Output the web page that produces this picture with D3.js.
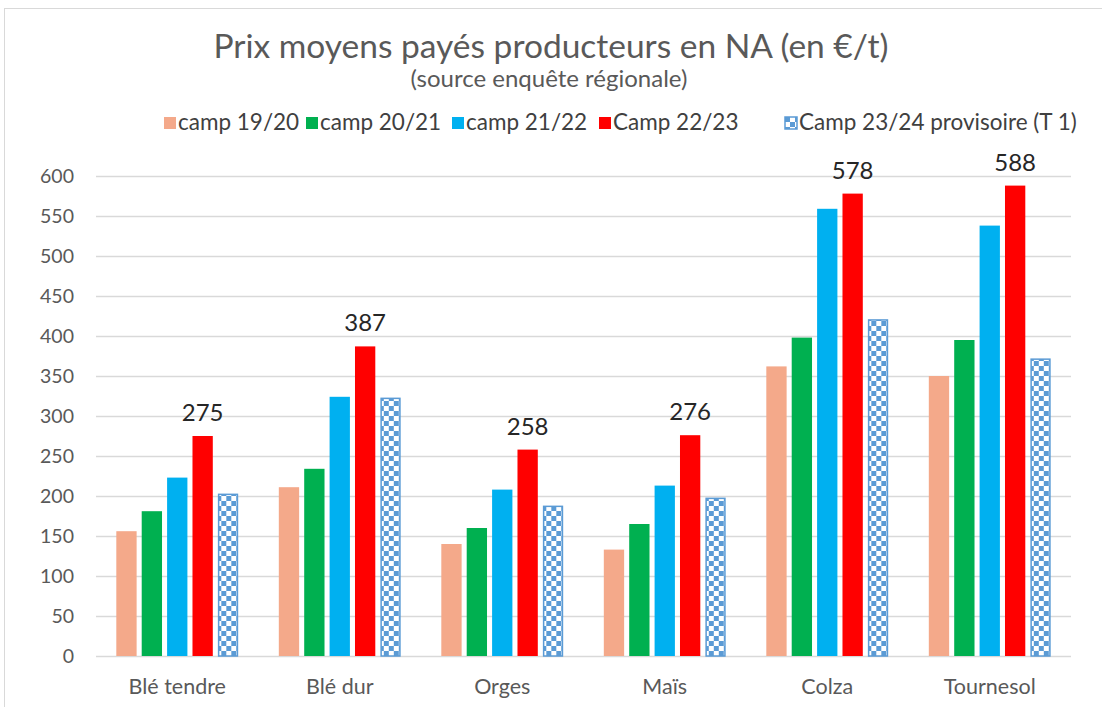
<!DOCTYPE html>
<html>
<head>
<meta charset="utf-8">
<script src="https://cdn.jsdelivr.net/npm/d3@7"></script>
<style>
  body { margin: 0; background: #fff; }
  text { font-family: Lato, "Liberation Sans", sans-serif; }
</style>
</head>
<body>
<div id="chart"></div>
<script>
// data
var categories = ["Blé tendre", "Blé dur", "Orges", "Maïs", "Colza", "Tournesol"];
var seriesNames = ["camp 19/20", "camp 20/21", "camp 21/22", "Camp 22/23", "Camp 23/24 provisoire (T 1)"];
var camp1920 = [156, 211, 140, 133, 362, 350];
var camp2021 = [181, 234, 160, 165, 398, 395];
var camp2122 = [223, 324, 208, 213, 559, 538];
var camp2223 = [275, 387, 258, 276, 578, 588];
var camp2324 = [203, 323, 188, 198, 421, 372];
var yTicks = [0, 50, 100, 150, 200, 250, 300, 350, 400, 450, 500, 550, 600];

var colors = ["#F4A98A", "#00B050", "#00B0F0", "#FF0000", "url(#checker)"];
var allSeries = [camp1920, camp2021, camp2122, camp2223, camp2324];

var W = 1102, H = 707;
var margin = {top: 176, right: 31, bottom: 51, left: 96};
var width = W - margin.left - margin.right;
var height = H - margin.top - margin.bottom;

var root = d3.select("#chart").append("svg")
    .attr("width", W)
    .attr("height", H);

// checker pattern for the provisional campaign
var defs = root.append("defs");
var pat = defs.append("pattern")
    .attr("id", "checker")
    .attr("width", 10).attr("height", 10)
    .attr("patternUnits", "userSpaceOnUse");
pat.append("rect").attr("width", 10).attr("height", 10).attr("fill", "#fff");
pat.append("rect").attr("width", 5).attr("height", 5).attr("fill", "#5B9BD5");
pat.append("rect").attr("x", 5).attr("y", 5).attr("width", 5).attr("height", 5).attr("fill", "#5B9BD5");

// outer frame
root.append("rect")
    .attr("x", 4.5).attr("y", 8.5)
    .attr("width", W - 4).attr("height", H)
    .attr("fill", "none")
    .attr("stroke", "#d9d9d9");

// titles
root.append("text")
    .attr("x", 551).attr("y", 58)
    .attr("text-anchor", "middle")
    .style("font-size", "33.5px")
    .style("fill", "#595959")
    .text("Prix moyens payés producteurs en NA (en €/t)");

root.append("text")
    .attr("x", 549).attr("y", 87)
    .attr("text-anchor", "middle")
    .style("font-size", "24px")
    .style("fill", "#595959")
    .text("(source enquête régionale)");

// legend
var legendX = [164, 306, 452, 599, 785];
var legend = root.append("g");
seriesNames.forEach(function (name, i) {
    var g = legend.append("g").attr("transform", "translate(" + legendX[i] + ",117)");
    g.append("rect")
        .attr("width", 12).attr("height", 12)
        .attr("fill", colors[i])
        .attr("stroke", i == 4 ? "#5B9BD5" : "none")
        .attr("stroke-width", 1.5);
    g.append("text")
        .attr("x", 14).attr("y", 13)
        .style("font-size", "22.5px")
        .style("fill", "#404040")
        .text(name);
});

var svg = root.append("g")
    .attr("transform", "translate(" + margin.left + "," + margin.top + ")");

var y = d3.scaleLinear()
    .domain([0, 600])
    .range([height, 0]);

var x0 = d3.scaleBand()
    .domain(categories)
    .range([0, width])
    .paddingInner(0.25)
    .paddingOuter(0.125);

var x1 = d3.scaleBand()
    .domain(d3.range(seriesNames.length))
    .range([0, x0.bandwidth()])
    .paddingInner(0.2)
    .paddingOuter(0);

// gridlines + y labels
svg.append("g")
    .call(d3.axisLeft(y).tickValues(yTicks).tickSize(-width).tickPadding(22))
    .call(function (g) { g.select(".domain").remove(); })
    .call(function (g) {
        g.selectAll(".tick line").attr("stroke", "#d9d9d9").attr("stroke-width", 1.5);
        g.selectAll(".tick text")
            .style("font-size", "19.5px")
            .style("fill", "#595959")
            .style("font-family", "Lato, sans-serif");
    });

// x labels
svg.append("g")
    .attr("transform", "translate(0," + height + ")")
    .call(d3.axisBottom(x0).tickSize(0).tickPadding(23))
    .call(function (g) { g.select(".domain").remove(); })
    .call(function (g) {
        g.selectAll(".tick text")
            .style("font-size", "21.5px")
            .style("fill", "#595959")
            .style("font-family", "Lato, sans-serif");
    });

// bars
categories.forEach(function (cat, ci) {
    var grp = svg.append("g").attr("transform", "translate(" + x0(cat) + ",0)");
    allSeries.forEach(function (vals, si) {
        var v = vals[ci];
        if (si == 4) {
            grp.append("rect")
                .attr("x", x1(si) + 0.75)
                .attr("y", y(v) + 0.75)
                .attr("width", x1.bandwidth() - 1.5)
                .attr("height", height - y(v) - 0.75)
                .attr("fill", colors[si])
                .attr("stroke", "#5B9BD5")
                .attr("stroke-width", 1.5);
        } else {
            grp.append("rect")
                .attr("x", x1(si))
                .attr("y", y(v))
                .attr("width", x1.bandwidth())
                .attr("height", height - y(v))
                .attr("fill", colors[si]);
        }
    });
    // value label on the 22/23 bar
    grp.append("text")
        .attr("x", x1(3) + x1.bandwidth() / 2)
        .attr("y", y(camp2223[ci]) - 15)
        .attr("text-anchor", "middle")
        .style("font-size", "24px")
        .style("fill", "#262626")
        .text(camp2223[ci]);
});
</script>
</body>
</html>
